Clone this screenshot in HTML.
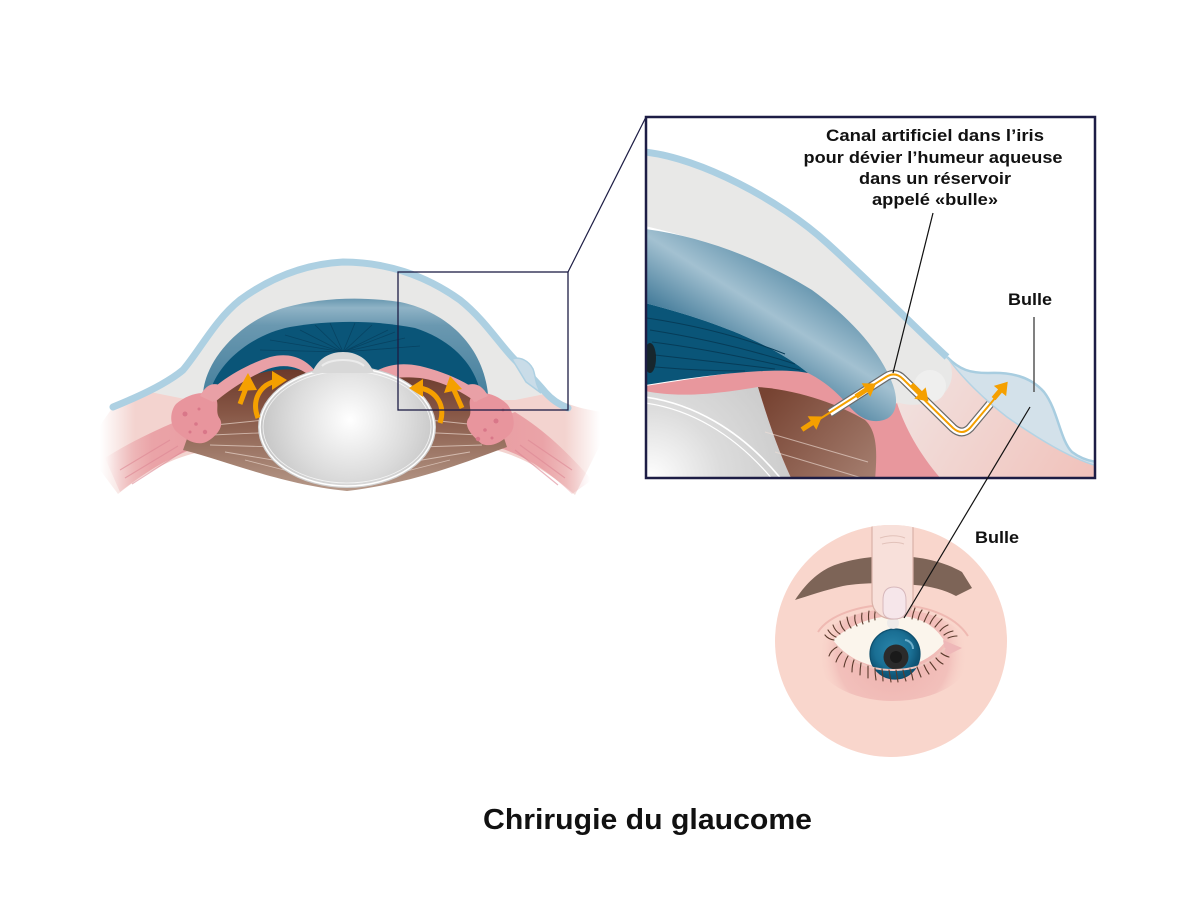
<!DOCTYPE html>
<html><head><meta charset="utf-8"><style>
html,body{margin:0;padding:0;background:#fff;}
svg{display:block;}
text{font-family:"Liberation Sans",sans-serif;font-weight:bold;fill:#111;}
</style></head><body>
<svg width="1200" height="900" viewBox="0 0 1200 900" xmlns="http://www.w3.org/2000/svg">
<defs>
  <linearGradient id="wingFade" x1="100" y1="0" x2="600" y2="0" gradientUnits="userSpaceOnUse">
    <stop offset="0" stop-color="#f3d3cf" stop-opacity="0"/>
    <stop offset="0.07" stop-color="#f3d3cf" stop-opacity="1"/>
    <stop offset="0.93" stop-color="#f3d3cf" stop-opacity="1"/>
    <stop offset="1" stop-color="#f3d3cf" stop-opacity="0"/>
  </linearGradient>
  <linearGradient id="stripeL" x1="105" y1="0" x2="200" y2="0" gradientUnits="userSpaceOnUse">
    <stop offset="0" stop-color="#e99ea3" stop-opacity="0"/>
    <stop offset="0.5" stop-color="#e99ea3" stop-opacity="0.9"/>
    <stop offset="1" stop-color="#e99ea3"/>
  </linearGradient>
  <linearGradient id="stripeR" x1="495" y1="0" x2="590" y2="0" gradientUnits="userSpaceOnUse">
    <stop offset="0" stop-color="#e99ea3"/>
    <stop offset="0.5" stop-color="#e99ea3" stop-opacity="0.9"/>
    <stop offset="1" stop-color="#e99ea3" stop-opacity="0"/>
  </linearGradient>
  <linearGradient id="brownL" x1="0" y1="370" x2="0" y2="490" gradientUnits="userSpaceOnUse">
    <stop offset="0" stop-color="#6c3a2b"/>
    <stop offset="0.35" stop-color="#865645"/>
    <stop offset="1" stop-color="#b59888"/>
  </linearGradient>
  <radialGradient id="lensG" cx="350" cy="420" r="95" gradientUnits="userSpaceOnUse">
    <stop offset="0" stop-color="#ffffff"/>
    <stop offset="0.6" stop-color="#dcdcdc"/>
    <stop offset="1" stop-color="#c2c2c2"/>
  </radialGradient>
  <linearGradient id="bandL" x1="0" y1="296" x2="0" y2="395" gradientUnits="userSpaceOnUse">
    <stop offset="0" stop-color="#5d8fa9"/>
    <stop offset="0.12" stop-color="#8fb3c6"/>
    <stop offset="0.3" stop-color="#6a98b0"/>
    <stop offset="1" stop-color="#46809d"/>
  </linearGradient>
  <linearGradient id="bandB" x1="715" y1="345" x2="775" y2="250" gradientUnits="userSpaceOnUse">
    <stop offset="0" stop-color="#467d9b"/>
    <stop offset="0.5" stop-color="#a3c1d1"/>
    <stop offset="1" stop-color="#5a8da8"/>
  </linearGradient>
  <radialGradient id="lensB" cx="650" cy="480" r="160" gradientUnits="userSpaceOnUse">
    <stop offset="0" stop-color="#ffffff"/>
    <stop offset="0.45" stop-color="#dcdcdc"/>
    <stop offset="1" stop-color="#c8c8c8"/>
  </radialGradient>
  <linearGradient id="brownB" x1="770" y1="390" x2="870" y2="480" gradientUnits="userSpaceOnUse">
    <stop offset="0" stop-color="#774332"/>
    <stop offset="1" stop-color="#a47d6e"/>
  </linearGradient>
  <linearGradient id="palePink" x1="900" y1="360" x2="1090" y2="478" gradientUnits="userSpaceOnUse">
    <stop offset="0" stop-color="#f1e3e1"/>
    <stop offset="1" stop-color="#f1c2bb"/>
  </linearGradient>
  <radialGradient id="irisS" cx="893" cy="650" r="26" gradientUnits="userSpaceOnUse">
    <stop offset="0" stop-color="#2a86ab"/>
    <stop offset="0.7" stop-color="#1a6f94"/>
    <stop offset="1" stop-color="#0f5576"/>
  </radialGradient>
  <radialGradient id="shadeS" cx="893" cy="655" r="75" gradientUnits="userSpaceOnUse">
    <stop offset="0" stop-color="#eeb0ad"/>
    <stop offset="0.75" stop-color="#f2c0bb"/>
    <stop offset="1" stop-color="#f9d6cc" stop-opacity="0"/>
  </radialGradient>
  <clipPath id="boxclip"><rect x="647" y="117" width="448" height="361"/></clipPath>
  <clipPath id="circclip"><circle cx="891" cy="641" r="116"/></clipPath>
</defs>

<!-- ===================== LEFT EYE ===================== -->
<path d="M98,428 L113,407 C135,398 165,385 183,370 L200,378 L490,378 L545,392 C560,402 575,408 602,412 L600,445 L575,495 C550,472 520,456 495,450 L200,452 C170,458 140,476 118,494 L100,470 Z" fill="url(#wingFade)"/>
<path d="M105,458 C130,442 160,428 185,418 L205,445 C180,452 150,468 120,492 Z" fill="url(#stripeL)"/>
<path d="M120,470 L170,440 M125,478 L178,446 M132,484 L185,450" stroke="#dd8794" stroke-width="1.2" opacity="0.6"/>
<path d="M495,420 L515,412 C545,430 570,455 592,480 L572,494 C550,472 525,456 500,448 Z" fill="url(#stripeR)"/>
<path d="M520,445 L565,478 M515,450 L558,485 M528,440 L572,470" stroke="#dd8794" stroke-width="1.2" opacity="0.6"/>

<!-- gray cornea dome -->
<path d="M150,392 C165,385 175,378 183,370 C200,350 215,320 240,300 C270,278 305,264 343,262 C385,262 425,275 460,300 C485,320 500,345 515,362 C528,375 538,385 545,394 L515,400 L190,400 Z" fill="#e8e8e7"/>

<!-- blue gradient band -->
<path d="M203,394 C205,360 240,320 287,307 C320,298 360,296 400,302 C440,310 482,340 488,394 Z" fill="url(#bandL)"/>
<!-- dark iris -->
<path d="M209,396 C215,365 250,335 290,327 C330,320 375,320 415,328 C452,340 476,365 481,396 Z" fill="#0a5578"/>
<g stroke="#063f5c" stroke-width="0.8" opacity="0.8" fill="none">
  <path d="M343,352 L300,330 M343,352 L315,325 M343,352 L330,323 M343,352 L355,323 M343,352 L372,325 M343,352 L388,330 M343,352 L270,340 M343,352 L405,338 M343,352 L285,335 M343,352 L395,332 M343,352 L260,350 M343,352 L420,346"/>
</g>

<!-- brown ciliary region -->
<path d="M200,402 C230,382 270,362 310,372 L380,372 C420,365 460,380 492,402 L507,447 C470,460 420,482 347,491 C280,484 230,462 183,450 Z" fill="url(#brownL)"/>
<g stroke="#e9d6cc" stroke-width="0.9" opacity="0.7">
  <path d="M215,425 L285,418 M212,435 L280,432 M210,445 L275,447 M225,452 L285,462 M245,460 L300,474"/>
  <path d="M478,425 L410,418 M480,435 L415,432 M482,445 L420,447 M470,452 L410,462 M450,460 L395,474"/>
</g>
<!-- pink ciliary blobs -->
<path d="M176,404 C188,394 203,390 214,396 C221,403 214,411 220,419 C225,428 213,439 206,442 C196,446 186,440 177,432 C169,425 170,411 176,404 Z" fill="#e8959d"/>
<path d="M200,396 C206,384 214,382 222,386 L213,402 Z" fill="#eaa0a6"/>
<circle cx="185" cy="414" r="2.5" fill="#d97789"/><circle cx="196" cy="424" r="1.8" fill="#d97789"/><circle cx="205" cy="432" r="2.2" fill="#d97789"/><circle cx="190" cy="432" r="1.5" fill="#d97789"/><circle cx="199" cy="409" r="1.5" fill="#d97789"/>
<path d="M507,404 C496,394 482,390 472,396 C466,403 474,411 468,419 C463,428 476,439 482,444 C492,448 503,441 510,434 C517,426 513,411 507,404 Z" fill="#e8959d"/>
<path d="M488,396 C482,384 473,382 465,386 L474,402 Z" fill="#eaa0a6"/>
<circle cx="496" cy="421" r="2.5" fill="#d97789"/><circle cx="485" cy="430" r="1.8" fill="#d97789"/><circle cx="478" cy="439" r="2.2" fill="#d97789"/><circle cx="492" cy="438" r="1.5" fill="#d97789"/><circle cx="503" cy="410" r="1.5" fill="#d97789"/>

<!-- pink iris strips -->
<path d="M205,396 C220,380 245,365 270,357 C290,352 305,358 316,372 L311,377 C300,367 285,363 268,369 C245,379 228,391 215,402 Z" fill="#e9a0a6"/>
<path d="M371,374 C385,365 400,362 420,366 C445,372 468,382 484,396 L476,402 C458,389 440,381 420,378 C400,376 385,379 371,379 Z" fill="#e9a0a6"/>

<!-- lens -->
<ellipse cx="347" cy="427" rx="89" ry="61" fill="#cfcfcf"/>
<ellipse cx="347" cy="427" rx="87" ry="59" fill="url(#lensG)" stroke="#ffffff" stroke-width="1.5"/>
<ellipse cx="347" cy="427" rx="84" ry="56" fill="none" stroke="#f4f4f4" stroke-width="0.8"/>
<path d="M312,373 C318,358 330,352 343,352 C356,352 368,358 374,373 Z" fill="#d8d8d8"/>
<path d="M322,366 C330,358 356,358 364,366" stroke="#ececec" stroke-width="2" fill="none"/>

<!-- outer cornea line -->
<path d="M113,407 C135,398 165,385 183,370 C200,350 215,320 240,300 C270,278 305,264 343,262 C385,262 425,275 460,300 C485,320 500,345 515,360 C525,370 535,380 545,392 C552,400 560,405 568,408" fill="none" stroke="#add0e2" stroke-width="7" stroke-linecap="round"/>
<path d="M512,359 C520,356 529,361 533,369 C536,377 535,384 541,393 L526,382 Z" fill="#c9dce8" stroke="#add0e2" stroke-width="1.5"/>

<!-- orange arrows left eye -->
<g fill="none" stroke="#f5a000" stroke-width="5" stroke-linecap="butt">
  <path d="M258,418 C251,400 260,385 276,381"/>
  <path d="M240,404 L246,388"/>
  <path d="M440,423 C446,405 436,391 420,388"/>
  <path d="M462,408 L454,390"/>
</g>
<g fill="#f5a000">
  <polygon points="272,371 287,380 272,390"/>
  <polygon points="238,391 248,373 257,390"/>
  <polygon points="423,379 409,388 423,397"/>
  <polygon points="444,393 450,376 462,389"/>
</g>

<rect x="398" y="272" width="170" height="138" fill="none" stroke="#1d1d45" stroke-width="1.3"/>
<line x1="568" y1="272" x2="646" y2="117" stroke="#1d1d45" stroke-width="1.2"/>

<!-- ===================== BIG BOX ===================== -->
<g clip-path="url(#boxclip)">
  <rect x="647" y="117" width="448" height="361" fill="#ffffff"/>
  <path d="M860,330 L947,357 C962,378 985,400 1007,417 C1040,440 1070,458 1097,466 L1097,480 L860,480 Z" fill="url(#palePink)"/>
  <path d="M645,150 C700,158 780,200 827,243 C870,282 920,332 947,357 C958,375 950,395 930,402 C915,407 900,405 888,398 L870,350 C840,300 770,255 645,226 Z" fill="#e8e8e7"/>
  <circle cx="930" cy="386" r="16" fill="#efefee"/>
  <path d="M645,386 C700,378 760,366 800,370 C830,378 855,400 875,420 L897,403 C905,428 920,455 942,480 L645,480 Z" fill="#e8979d"/>
  <path d="M645,391 C670,396 700,397 758,387 C768,420 778,450 792,480 L645,480 Z" fill="url(#lensB)"/>
  <path d="M645,397 C690,403 740,428 782,480" fill="none" stroke="#ffffff" stroke-width="1.6"/>
  <path d="M645,403 C688,409 733,432 773,480" fill="none" stroke="#ffffff" stroke-width="1.2"/>
  <path d="M758,387 C800,390 840,405 865,420 C878,432 877,455 875,480 L792,480 C778,450 768,420 758,387 Z" fill="url(#brownB)"/>
  <path d="M765,432 L868,462 M775,452 L862,478" stroke="#f2e2da" stroke-width="1" opacity="0.6"/>
  <path d="M645,229 C700,236 760,258 812,290 C850,318 880,350 893,385 C900,405 895,420 878,421 C865,422 856,414 848,405 C835,390 822,380 808,373 C780,350 730,325 645,303 Z" fill="url(#bandB)"/>
  <path d="M645,303 C730,325 780,350 808,373 C780,367 720,373 658,383 L645,385 Z" fill="#0a5578"/>
  <g stroke="#063c58" stroke-width="1" fill="none">
    <path d="M647,318 C700,326 745,338 785,354"/>
    <path d="M650,330 C700,338 745,348 795,364"/>
    <path d="M652,342 C700,348 745,357 800,370"/>
    <path d="M655,355 C700,360 735,364 775,369"/>
    <path d="M655,367 C690,370 720,371 745,371"/>
  </g>
  <ellipse cx="650" cy="358" rx="6" ry="15" fill="#1a1a1a" opacity="0.8"/>
  <path d="M645,152 C700,158 780,200 827,243 C870,282 920,332 947,357" fill="none" stroke="#abcfe2" stroke-width="7"/>
  <path d="M947,357 C960,370 970,373 988,373 C1010,372 1030,376 1044,392 C1058,410 1060,440 1072,452 C1080,458 1088,461 1097,462 L1097,466 C1070,458 1040,440 1007,417 C985,400 962,378 947,357 Z" fill="#d3e1ea"/>
  <path d="M947,357 C960,370 970,373 988,373 C1010,372 1030,376 1044,392 C1058,410 1060,440 1072,452 C1080,458 1088,461 1097,462" fill="none" stroke="#a8cde0" stroke-width="2.5"/>
  <path d="M947,357 C962,378 985,400 1007,417 C1040,440 1070,458 1097,466" fill="none" stroke="#b3d3e4" stroke-width="1.5"/>
  <path d="M830,413 L886,377 Q895,371 903,379 L953,428 Q962,436 970,428 L990,404" fill="none" stroke="#6b6b6b" stroke-width="9" stroke-linejoin="round"/>
  <path d="M830,413 L886,377 Q895,371 903,379 L953,428 Q962,436 970,428 L990,404" fill="none" stroke="#ffffff" stroke-width="6.5" stroke-linejoin="round"/>
  <path d="M815,422 L886,377 Q895,371 903,379 L953,428 Q962,436 970,428 L996,397" fill="none" stroke="#f5a000" stroke-width="2" stroke-linejoin="round"/>
  <path transform="translate(812,423) rotate(-33)" d="M-12,-2.5 L0,-2.5 L0,-8 L12,0 L0,8 L0,2.5 L-12,2.5 Z" fill="#f5a000"/>
  <path transform="translate(866,390) rotate(-33)" d="M-12,-2.5 L0,-2.5 L0,-8 L12,0 L0,8 L0,2.5 L-12,2.5 Z" fill="#f5a000"/>
  <path transform="translate(920,393) rotate(45)" d="M-12,-2.5 L0,-2.5 L0,-8 L12,0 L0,8 L0,2.5 L-12,2.5 Z" fill="#f5a000"/>
  <path transform="translate(1000,391) rotate(-50)" d="M-10,-2.5 L0,-2.5 L0,-8 L12,0 L0,8 L0,2.5 L-10,2.5 Z" fill="#f5a000"/>
</g>
<rect x="646" y="117" width="449" height="361" fill="none" stroke="#1d1d45" stroke-width="2.5"/>

<text x="935" y="141" font-size="17" text-anchor="middle" textLength="218" lengthAdjust="spacingAndGlyphs">Canal artificiel dans l’iris</text>
<text x="933" y="163" font-size="17" text-anchor="middle" textLength="259" lengthAdjust="spacingAndGlyphs">pour dévier l’humeur aqueuse</text>
<text x="935" y="184" font-size="17" text-anchor="middle" textLength="152" lengthAdjust="spacingAndGlyphs">dans un réservoir</text>
<text x="935" y="205" font-size="17" text-anchor="middle" textLength="126" lengthAdjust="spacingAndGlyphs">appelé «bulle»</text>
<line x1="933" y1="213" x2="893" y2="373" stroke="#111" stroke-width="1.2"/>
<text x="1008" y="305" font-size="17" textLength="44" lengthAdjust="spacingAndGlyphs">Bulle</text>
<line x1="1034" y1="317" x2="1034" y2="392" stroke="#555" stroke-width="1.5"/>

<!-- ===================== SMALL EYE CIRCLE ===================== -->
<circle cx="891" cy="641" r="116" fill="#f9d6cc"/>
<g clip-path="url(#circclip)">
  <ellipse cx="893" cy="655" rx="78" ry="46" fill="url(#shadeS)"/>
  <path d="M818,632 C840,598 940,592 968,636" fill="none" stroke="#efb9b2" stroke-width="2"/>
  <path d="M795,600 C805,585 815,575 828,568 C845,560 870,556 895,556 C920,556 945,562 962,572 L972,588 L956,596 C945,590 930,586 915,585 C890,583 865,582 843,586 C825,590 808,596 795,600 Z" fill="#7d6457"/>
  <path d="M833,640 C850,625 870,617 893,616 C918,615 935,625 945,642 C935,655 918,667 893,668 C865,668 845,656 833,640 Z" fill="#fbf5ec"/>
  <path d="M943,640 L962,648 L946,656 Z" fill="#eeb7b8"/>
  <circle cx="895" cy="654" r="25" fill="url(#irisS)"/>
  <circle cx="895" cy="654" r="25" fill="none" stroke="#0d4f6e" stroke-width="1.2"/>
  <circle cx="896" cy="657" r="12.5" fill="#2b2b2b"/>
  <circle cx="896" cy="657" r="6" fill="#1a1a1a"/>
  <path d="M905,640 A9,9 0 0 1 913,649" stroke="#6fb0cc" stroke-width="2" fill="none"/>
  <path d="M835,645 C850,662 870,670 893,670 C920,670 935,660 945,648" fill="none" stroke="#f0c7c0" stroke-width="2"/>
  <g stroke="#5a3a2c" stroke-width="1.1" fill="none" stroke-linecap="round">
    <path d="M836,637 q-5,-2 -8,-7"/><path d="M840,634 q-5,-3 -7,-9"/><path d="M845,631 q-4,-4 -5,-10"/>
    <path d="M851,628 q-3,-4 -4,-11"/><path d="M857,626 q-3,-5 -2,-11"/><path d="M863,624 q-2,-5 -1,-11"/>
    <path d="M869,622 q-1,-6 0,-11"/><path d="M875,620 q-1,-6 1,-11"/><path d="M912,619 q1,-6 3,-11"/>
    <path d="M918,620 q1,-6 4,-10"/><path d="M924,622 q2,-5 5,-10"/><path d="M930,624 q2,-5 6,-9"/>
    <path d="M935,627 q3,-4 7,-8"/><path d="M940,631 q3,-4 8,-6"/><path d="M944,635 q4,-3 9,-4"/>
    <path d="M834,640 q-6,-1 -9,-5"/><path d="M948,638 q5,-2 9,-2"/>
  </g>
  <g stroke="#5a3a2c" stroke-width="1.1" fill="none" stroke-linecap="round">
    <path d="M837,647 q-6,3 -8,9"/><path d="M842,652 q-4,4 -6,10"/><path d="M848,656 q-3,5 -4,11"/>
    <path d="M854,660 q-2,5 -2,12"/><path d="M861,663 q-1,6 -1,12"/><path d="M868,666 q0,6 0,12"/>
    <path d="M875,668 q0,6 1,12"/><path d="M882,669 q1,6 1,12"/><path d="M889,670 q1,6 2,12"/>
    <path d="M896,670 q1,6 2,12"/><path d="M903,670 q1,6 3,11"/><path d="M910,669 q2,5 3,11"/>
    <path d="M917,667 q2,5 4,10"/><path d="M924,665 q2,5 5,9"/><path d="M930,662 q3,4 6,8"/>
    <path d="M936,658 q3,4 7,6"/><path d="M941,653 q4,3 8,4"/>
  </g>
  <circle cx="893" cy="623" r="6" fill="#eceaea" opacity="0.9"/>
  <path d="M872,515 L872,600 C872,612 882,619 893,619 C904,619 913,612 913,600 L913,515 Z" fill="#f8e0da" stroke="#d9b2a8" stroke-width="1.2"/>
  <path d="M880,538 C888,535 898,535 905,538 M882,544 C890,542 898,542 904,544" stroke="#e2c2ba" stroke-width="1" fill="none"/>
  <path d="M883,600 C883,591 887,587 894,587 C902,587 906,591 906,600 L906,610 C906,616 901,619 894,619 C887,619 883,616 883,610 Z" fill="#f6e6ea" stroke="#d7b8bc" stroke-width="1"/>
</g>
<line x1="1030" y1="407" x2="904" y2="618" stroke="#111" stroke-width="1.2"/>
<text x="975" y="543" font-size="17" textLength="44" lengthAdjust="spacingAndGlyphs">Bulle</text>

<text x="483" y="829" font-size="29" textLength="329" lengthAdjust="spacingAndGlyphs">Chrirugie du glaucome</text>
</svg>
</body></html>
